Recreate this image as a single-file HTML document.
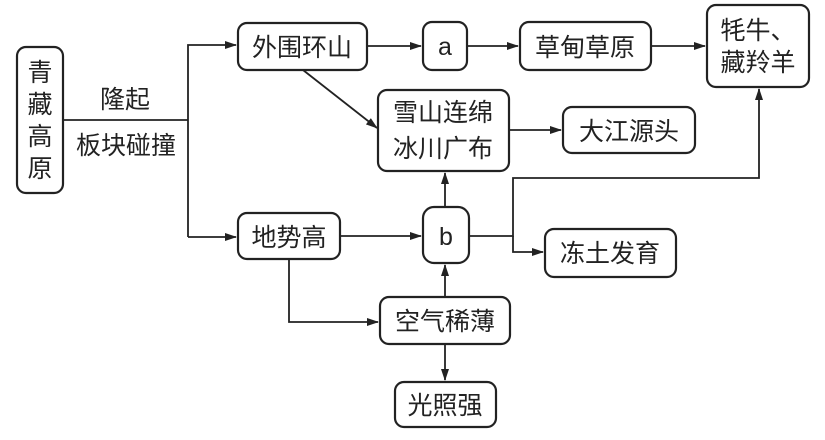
<!DOCTYPE html>
<html><head><meta charset="utf-8"><style>
html,body{margin:0;padding:0;background:#fff;}
svg{display:block}
text{font-family:"Liberation Sans","Noto Sans CJK SC","WenQuanYi Zen Hei",sans-serif;fill:#222;font-size:25px;}
</style></head><body>
<svg width="825" height="440" viewBox="0 0 825 440" xmlns="http://www.w3.org/2000/svg">
<defs><marker id="ar" markerWidth="12" markerHeight="10" refX="11" refY="5" orient="auto" markerUnits="userSpaceOnUse"><path d="M0,1 L12,5 L0,9 Z" fill="#222"/></marker></defs>
<g fill="none" stroke="#222" stroke-width="2.2">
<rect x="17" y="47" width="46" height="146" rx="9"/>
<rect x="238" y="23" width="129" height="47" rx="9"/>
<rect x="423" y="22" width="44" height="48" rx="9"/>
<rect x="520" y="22" width="131" height="48" rx="9"/>
<rect x="707" y="5" width="102" height="82" rx="9"/>
<rect x="378" y="90" width="131" height="81" rx="9"/>
<rect x="563" y="107" width="132" height="46" rx="9"/>
<rect x="238" y="213" width="102" height="46" rx="9"/>
<rect x="423" y="207" width="46" height="56" rx="11"/>
<rect x="545" y="229" width="131" height="48" rx="9"/>
<rect x="380" y="297" width="130" height="47" rx="9"/>
<rect x="395" y="382" width="101" height="45" rx="9"/>
</g>
<g fill="none" stroke="#222" stroke-width="1.8">
<path d="M63,120 H188"/>
<path d="M188,237 V45 H236" marker-end="url(#ar)"/>
<path d="M188,237 H236" marker-end="url(#ar)"/>
<path d="M367,46 H421" marker-end="url(#ar)"/>
<path d="M467,46 H518" marker-end="url(#ar)"/>
<path d="M651,46 H705" marker-end="url(#ar)"/>
<path d="M303,70 L377,128" marker-end="url(#ar)"/>
<path d="M509,130 H561" marker-end="url(#ar)"/>
<path d="M340,236 H421" marker-end="url(#ar)"/>
<path d="M469,236 H513 V178 H759 V89" marker-end="url(#ar)"/>
<path d="M513,236 V252 H543" marker-end="url(#ar)"/>
<path d="M445,207 V173" marker-end="url(#ar)"/>
<path d="M445,297 V265" marker-end="url(#ar)"/>
<path d="M445,344 V380" marker-end="url(#ar)"/>
<path d="M289,259 V322 H378" marker-end="url(#ar)"/>
</g>
<g text-anchor="middle">
<text x="40" y="81">青</text>
<text x="40" y="113">藏</text>
<text x="40" y="145">高</text>
<text x="40" y="177">原</text>
<text x="125" y="108">隆起</text>
<text x="126" y="154">板块碰撞</text>
<text x="302" y="56">外围环山</text>
<text x="445" y="55">a</text>
<text x="585" y="56">草甸草原</text>
<text x="758" y="39">牦牛、</text>
<text x="758" y="71">藏羚羊</text>
<text x="443" y="121">雪山连绵</text>
<text x="443" y="157">冰川广布</text>
<text x="629" y="140">大江源头</text>
<text x="289" y="246">地势高</text>
<text x="446" y="245">b</text>
<text x="610" y="262">冻土发育</text>
<text x="445" y="330">空气稀薄</text>
<text x="445" y="414">光照强</text>
</g>
</svg>
</body></html>
